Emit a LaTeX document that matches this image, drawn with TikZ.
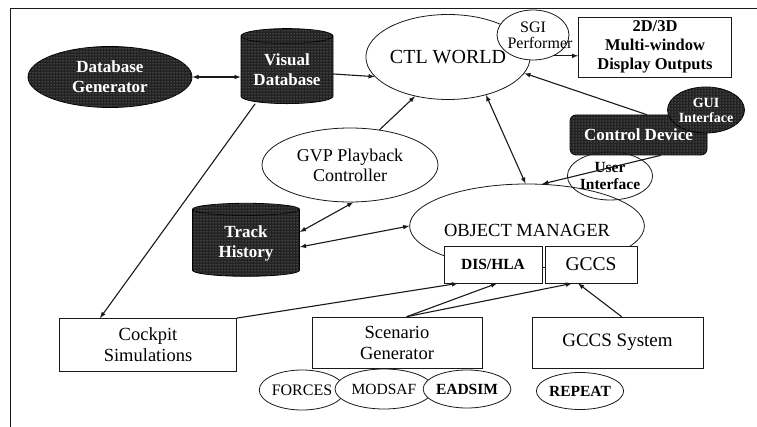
\documentclass[tikz,border=0pt]{standalone}
\usepackage{fontspec}
\setmainfont{Liberation Serif}
\usepackage{xcolor}
\definecolor{Ink}{RGB}{25,25,25}
\definecolor{Dark}{RGB}{35,35,35}
\usepackage{tikz}
\usetikzlibrary{shapes.geometric}
\usetikzlibrary{patterns}
\tikzstyle{Oval}=[ellipse,draw=Ink,fill=white,thick,inner sep=0pt,align=center,
  font=\fontsize{17}{19}\selectfont]
\tikzstyle{Box}=[rectangle,draw=Ink,fill=white,thick,inner sep=0pt,align=center,
  font=\fontsize{18.5}{21}\selectfont]
\tikzstyle{Grain}=[postaction={pattern=dots,pattern color=gray!70}]
\tikzstyle{DarkOval}=[ellipse,draw=black,fill=Dark,Grain,thick,inner sep=0pt,align=center,
  text=white!85,font=\bfseries\fontsize{17}{20}\selectfont]
\tikzstyle{DarkDrum}=[cylinder,shape border rotate=90,aspect=0.22,draw=black,
  fill=Dark,Grain,thick,inner sep=0pt,align=center,text=white!85,
  font=\bfseries\fontsize{17}{20}\selectfont]
\tikzstyle{Edge}=[draw=Ink,line cap=round,line width=1.1pt,>=latex]

\begin{document}
\begin{tikzpicture}[x=1pt,y=-1pt]
  \useasboundingbox (0,0) rectangle (757,427);
  \draw[Ink,thick](10,427)--(10,8)--(757,8);
  % stores and tools
  \node[DarkOval,minimum width=164pt,minimum height=61pt](dbg)at(110,77){Database\\Generator};
  \node[DarkDrum,minimum width=92pt,minimum height=75pt](vdb)at(287,70){Visual\\Database};
  \node[DarkDrum,minimum width=107pt,minimum height=73pt](trk)at(246,243){Track\\History};
  % world and outputs
  \node[Oval,minimum width=140pt,minimum height=85pt,font=\fontsize{20}{22}\selectfont](ctl)at(448,57){CTL WORLD};
  \node[Oval,minimum width=70pt,minimum height=50pt,font=\fontsize{16}{18}\selectfont](sgi)at(533,35){SGI\\[-2pt]Performer\hspace*{-14pt}};
  \node[Box,minimum width=153pt,minimum height=60pt,font=\bfseries\fontsize{16.5}{19}\selectfont](disp)at(655,47){2D/3D\\Multi-window\\Display Outputs};
  \node[Oval,minimum width=176pt,minimum height=74pt,font=\fontsize{18}{20}\selectfont](gvp)at(350,165){GVP Playback\\Controller};
  % control device
  \node[rectangle,rounded corners=6pt,draw=black,fill=Dark,Grain,thick,minimum width=137pt,
    minimum height=40pt,text=white!85,font=\bfseries\fontsize{17}{19}\selectfont](cdev)at(638.5,135){Control Device};
  \node[DarkOval,minimum width=72pt,minimum height=46pt,font=\bfseries\fontsize{14}{15}\selectfont](gui)at(706,110){GUI\\Interface};
  % object manager
  \node[Oval,minimum width=180pt,minimum height=84pt,font=\fontsize{18.5}{20}\selectfont](om)at(527,226){\\[2pt]OBJECT MANAGER};
  \node[ellipse,draw=Ink,thick,minimum width=70pt,minimum height=48pt,inner sep=0pt,align=center,
    font=\bfseries\fontsize{15.5}{17}\selectfont](ui)at(610,176){User\\Interface};
  \node[Box,minimum width=98pt,minimum height=37pt,font=\bfseries\fontsize{15.5}{17}\selectfont](dis)at(493,264.5){DIS/HLA};
  \node[Box,minimum width=92pt,minimum height=37pt,font=\fontsize{19.5}{21}\selectfont](gccs)at(591,264.5){GCCS};
  % simulations
  \node[Box,minimum width=177pt,minimum height=53pt](cock)at(148,345){Cockpit\\Simulations};
  \node[Box,minimum width=170pt,minimum height=51pt](scen)at(397,342.5){Scenario\\Generator};
  \node[Box,minimum width=171pt,minimum height=51pt,font=\fontsize{19}{21}\selectfont](gsys)at(617.5,342.5){GCCS System};
  \node[Oval,minimum width=68pt,minimum height=40pt,font=\fontsize{16}{17}\selectfont](frc)at(302,390){FORCES};
  \node[Oval,minimum width=98pt,minimum height=40pt,font=\fontsize{15.5}{17}\selectfont](mod)at(384,389){MODSAF};
  \node[Oval,minimum width=70pt,minimum height=38pt,font=\bfseries\fontsize{15.5}{17}\selectfont](ead)at(467,389){EADSIM};
  \node[Oval,minimum width=77pt,minimum height=37pt,font=\bfseries\fontsize{15.5}{17}\selectfont](rep)at(580,391){REPEAT};
  % connectors
  \draw[Edge,<->](dbg.east)--(dbg.east -| vdb.west);
  \draw[Edge,->]([yshift=-4pt]vdb.east)--(ctl.195);
  \draw[Edge,->]([xshift=-32pt]vdb.south)--([xshift=-48pt]cock.north);
  \draw[Edge,->](gvp.50)--(ctl.230);
  \draw[Edge,<->]([yshift=11pt]trk.east)--(gvp.-85);
  \draw[Edge,<->]([yshift=-4pt]trk.east)--(om.west);
  \draw[Edge,<->](ctl.-45)--(om.92);
  \draw[Edge,->]([xshift=8pt]cdev.north)--(ctl.-12);
  \draw[Edge,->]([xshift=22pt]cdev.south)--(om.70);
  \draw[Edge,->](sgi.-45)--(sgi.-45 -| disp.west);
  \draw[Edge,->](cock.north east)--([xshift=-35pt]dis.south);
  \draw[Edge,->]([xshift=10pt]scen.north)--([xshift=4pt]dis.south);
  \draw[Edge,->]([xshift=10pt]scen.north)--([xshift=-19pt]gccs.south);
  \draw[Edge,->]([xshift=4pt]gsys.north)--([xshift=-13pt]gccs.south);
\end{tikzpicture}
\end{document}
